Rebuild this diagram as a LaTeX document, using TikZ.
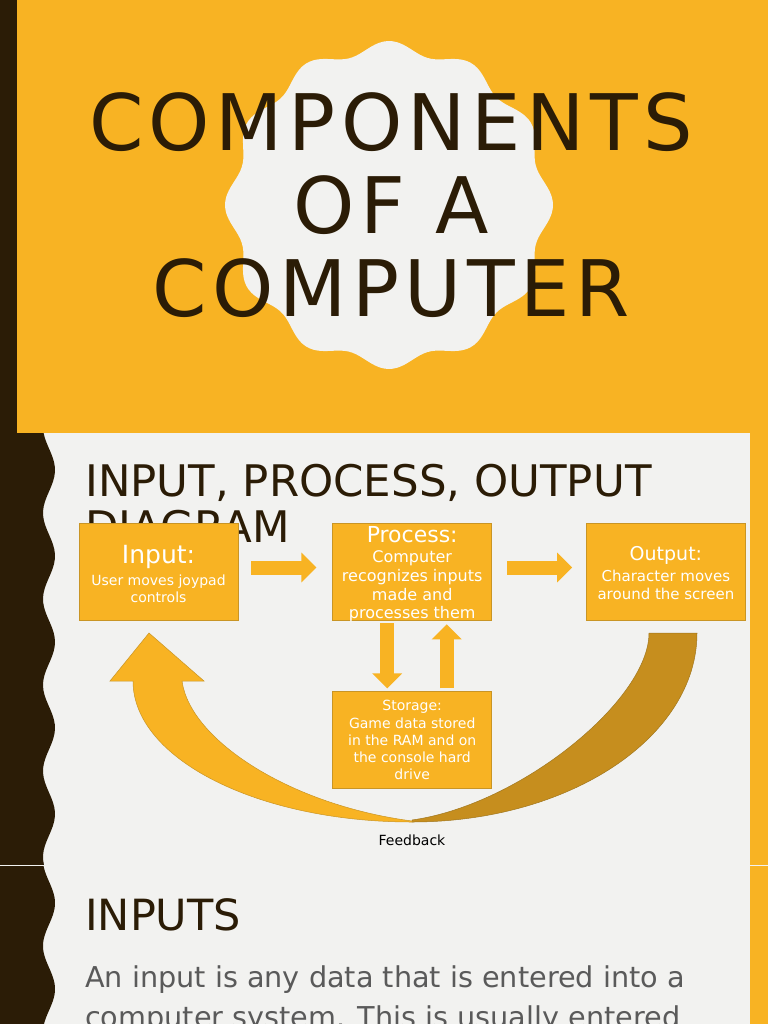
\documentclass[tikz,border=0pt]{standalone}
\usepackage{fontspec}
\setmainfont{DejaVu Sans}
\newfontfamily\titlefont[LetterSpace=7]{DejaVu Sans}
\usetikzlibrary{arrows.meta,positioning}
\definecolor{slideorange}{HTML}{F8B323}
\definecolor{darkbrown}{HTML}{2B1C06}
\definecolor{slidelight}{HTML}{F2F2F0}
\definecolor{boxedge}{HTML}{C99525}
\definecolor{backgold}{HTML}{C68E1E}
\definecolor{bodygray}{HTML}{5A5A5A}

\begin{document}
\begin{tikzpicture}[x=1pt, y=-1pt,
  box/.style={draw=boxedge, fill=slideorange, line width=0.7pt, minimum width=159pt,
    minimum height=97pt, inner sep=0pt, text=white, align=center},
  flow/.style={draw=slideorange, line width=14pt, -{Triangle[length=15pt,width=29pt]}}]
% Page: three slides stacked
\useasboundingbox (0,0) rectangle (768,1024);
\clip (0,0) rectangle (768,1024);
\fill[slideorange] (0,0) rectangle (768,433);
\fill[darkbrown] (0,0) rectangle (17,433);
\fill[slidelight] (0,433) rectangle (768,1024);
\fill[slideorange] (750,433) rectangle (768,1024);
% Wavy dark strip on the left of slides 2 and 3 (period 86)
\foreach \ya/\yb in {433/865, 866/1024} {
  \fill[darkbrown] (0,\ya) -- plot[domain=\ya:\yb, samples=90]
    ({49+6*cos(4.186*(\x-\ya-37))}, \x) -- (0,\yb) -- cycle;
}
\draw[slidelight, line width=1pt] (0,865.5) -- (768,865.5);

% Slide 1: scalloped badge and title
\fill[slidelight] plot[domain=0:360, samples=240, smooth]
  ({389+(158+6*cos(12*\x))*cos(\x)}, {205+(158+6*cos(12*\x))*sin(\x)}) -- cycle;
\node[text=darkbrown, align=center, inner sep=0pt,
  font={\titlefont\fontsize{78}{83}\selectfont}] (title) at (391,205)
  {COMPONENTS\\OF A\\COMPUTER};

% Slide 2: heading (partly under the boxes)
\node[anchor=north west, text=darkbrown, align=left, inner sep=0pt,
  font=\fontsize{43.5}{46}\selectfont] (ipohead) at (85,464)
  {INPUT, PROCESS, OUTPUT\\DIAGRAM};

% Boxes (process text runs over its box, as in the slide)
\node[box, font=\fontsize{14}{17}\selectfont] (input) at (158.5,571.5)
  {{\fontsize{25}{28}\selectfont\rule{0pt}{24pt}Input:}\\[5pt]User moves joypad\\controls};
\node[box, inner ysep=-2.5pt, right=94pt of input, font=\fontsize{16}{18.6}\selectfont] (process)
  {{\fontsize{22}{25}\selectfont\rule{0pt}{22pt}Process:}\\[1.5pt]Computer\\recognizes inputs\\made and\\processes them};
\node[box, right=94pt of process, font=\fontsize{15}{18}\selectfont] (output)
  {{\fontsize{19}{22}\selectfont\rule{0pt}{18pt}Output:}\\[3pt]Character moves\\around the screen};
\node[box, below=71pt of process, font=\fontsize{14}{17.3}\selectfont] (storage)
  {Storage:\\Game data stored\\in the RAM and on\\the console hard\\drive};

% Block arrows
\draw[flow, shorten <=13pt, shorten >=16pt] ([yshift=4pt]input.east) -- ([yshift=4pt]process.west);
\draw[flow, shorten <=15pt, shorten >=14pt] ([yshift=4pt]process.east) -- ([yshift=4pt]output.west);
\draw[flow, shorten <=3pt, shorten >=3pt] ([xshift=-25pt]process.south) -- ([xshift=-25pt]storage.north);
\draw[flow, shorten <=3pt, shorten >=4pt] ([xshift=34.5pt]storage.north) -- ([xshift=34.5pt]process.south);

% Feedback: curved arrow from output back to input
\filldraw[fill=backgold, draw=boxedge!80!black, line width=0.5pt]
  (697,633) arc[start angle=0, end angle=90, x radius=285, y radius=189]
  -- (412,820) .. controls (520,805) and (649,700) .. (649,633) -- cycle;
\filldraw[fill=slideorange, draw=boxedge, line width=0.5pt]
  (149,633) -- (204,681) -- (182,681) .. controls (190,740) and (290,805) .. (412,821)
  -- (412,822) arc[start angle=90, end angle=180, x radius=279, y radius=141]
  -- (110,681) -- cycle;
\node[anchor=base, font=\fontsize{14}{16}\selectfont] (feedback) at (412,845) {Feedback};

% Slide 3
\node[anchor=base west, text=darkbrown, inner sep=0pt,
  font=\fontsize{43}{46}\selectfont] (inputs) at (85,930) {INPUTS};
\node[anchor=north west, text=bodygray, align=left, inner sep=0pt,
  font=\fontsize{28.7}{40}\selectfont] (intro) at (85,965)
  {An input is any data that is entered into a\\computer system. This is usually entered};
\end{tikzpicture}
\end{document}
